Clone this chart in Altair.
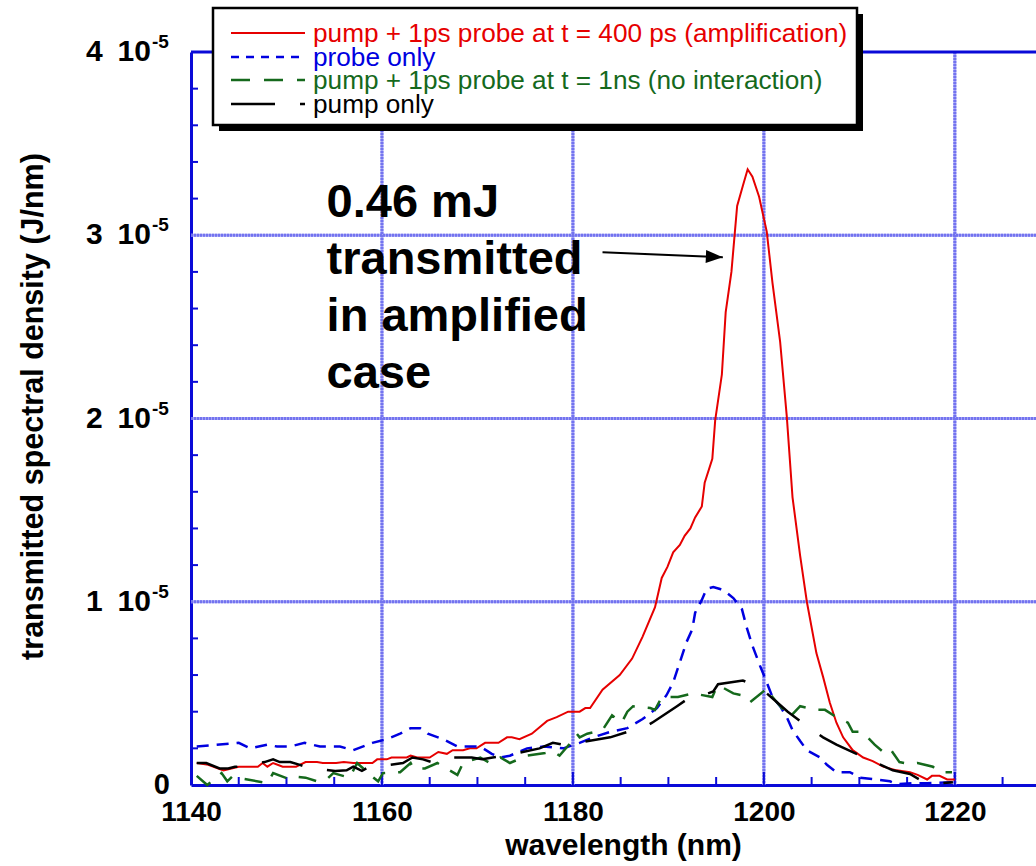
import altair as alt
import pandas as pd

FONT = "Liberation Sans"

# Spectra: wavelength (nm) and transmitted spectral density (units of 1e-5 J/nm)
amp_wl = [1140.6, 1141.8, 1143.4, 1145.0, 1147.0, 1147.5, 1148.0, 1148.6, 1149.6, 1151.0,
          1152.0, 1153.2, 1153.8, 1155.2, 1156.0, 1157.0, 1159.0, 1159.5, 1160.5, 1161.0,
          1162.6, 1163.0, 1163.7, 1165.0, 1165.9, 1166.8, 1167.4, 1168.5, 1169.2, 1169.9,
          1170.8, 1172.2, 1173.1, 1173.6, 1174.4, 1175.7, 1177.3, 1178.3, 1179.5, 1180.7,
          1181.3, 1181.8, 1183.1, 1184.9, 1186.2, 1187.3, 1188.6, 1189.3, 1189.9, 1190.5,
          1191.2, 1191.7, 1192.3, 1192.8, 1193.5, 1193.8, 1194.6, 1194.9, 1195.6, 1196.0,
          1196.6, 1197.2, 1197.8, 1198.3, 1198.8, 1199.5, 1200.3, 1200.9, 1201.7, 1202.4,
          1203.0, 1203.8, 1204.5, 1205.5, 1206.2, 1206.9, 1207.6, 1208.3, 1209.3, 1210.4,
          1211.4, 1212.5, 1213.9, 1215.3, 1216.1, 1217.1, 1217.6, 1218.4, 1219.2, 1220.0]
amp_val = [0.12, 0.11, 0.08, 0.10, 0.10, 0.12, 0.10, 0.12, 0.10, 0.10,
           0.125, 0.125, 0.12, 0.12, 0.125, 0.12, 0.12, 0.14, 0.14, 0.15,
           0.15, 0.16, 0.15, 0.15, 0.18, 0.17, 0.19, 0.19, 0.20, 0.20,
           0.23, 0.23, 0.26, 0.26, 0.25, 0.28, 0.35, 0.37, 0.40, 0.40,
           0.42, 0.42, 0.52, 0.60, 0.69, 0.81, 0.97, 1.13, 1.19, 1.27,
           1.31, 1.36, 1.40, 1.46, 1.52, 1.65, 1.78, 1.99, 2.24, 2.58,
           2.80, 3.16, 3.27, 3.36, 3.32, 3.21, 3.02, 2.74, 2.42, 2.01,
           1.57, 1.25, 1.00, 0.72, 0.59, 0.45, 0.34, 0.26, 0.19, 0.15,
           0.13, 0.10, 0.08, 0.07, 0.055, 0.03, 0.05, 0.05, 0.03, 0.03]

probe_wl = [1140.6, 1145.0, 1146.2, 1148.0, 1149.0, 1150.4, 1151.9, 1153.5, 1155.6, 1157.0,
            1159.0, 1160.5, 1161.9, 1163.0, 1164.0, 1164.8, 1166.4, 1167.9, 1169.2, 1170.3,
            1171.5, 1172.4, 1173.4, 1175.2, 1176.9, 1179.0, 1180.7, 1182.1, 1183.9, 1185.7,
            1187.3, 1188.8, 1189.8, 1190.5, 1191.2, 1191.9, 1192.5, 1192.8, 1193.5, 1194.0,
            1194.7, 1195.4, 1196.1, 1196.8, 1197.7, 1198.2, 1198.8, 1199.6, 1200.3, 1200.9,
            1201.7, 1202.4, 1203.0, 1203.8, 1204.5, 1205.9, 1206.6, 1207.6, 1209.0, 1210.1,
            1211.8, 1213.2, 1213.9, 1215.6, 1217.1, 1219.8]
probe_val = [0.21, 0.23, 0.20, 0.22, 0.21, 0.21, 0.23, 0.21, 0.21, 0.19,
             0.23, 0.25, 0.28, 0.31, 0.31, 0.28, 0.25, 0.21, 0.21, 0.21,
             0.17, 0.15, 0.16, 0.20, 0.21, 0.20, 0.23, 0.26, 0.29, 0.31,
             0.36, 0.42, 0.49, 0.56, 0.67, 0.78, 0.85, 0.94, 1.01, 1.07,
             1.08, 1.07, 1.05, 1.02, 0.96, 0.86, 0.76, 0.65, 0.56, 0.48,
             0.43, 0.37, 0.30, 0.24, 0.19, 0.15, 0.11, 0.07, 0.07, 0.04,
             0.03, 0.02, 0.005, 0.01, 0.01, 0.015]

late_wl = [1140.6, 1141.7, 1143.2, 1143.8, 1144.3, 1148.0, 1148.6, 1150.4, 1151.1, 1152.0,
           1153.2, 1154.2, 1154.9, 1156.6, 1157.4, 1159.0, 1159.6, 1160.1, 1161.9, 1163.0,
           1163.3, 1164.5, 1165.8, 1167.9, 1168.5, 1170.3, 1171.3, 1172.4, 1173.4, 1175.2,
           1177.1, 1177.9, 1178.6, 1180.0, 1180.4, 1180.7, 1181.5, 1183.1, 1184.1, 1185.1,
           1185.7, 1186.3, 1188.1, 1188.6, 1189.3, 1191.0, 1192.6, 1194.6, 1195.1, 1195.4,
           1196.8, 1197.7, 1198.5, 1200.4, 1200.9, 1202.7, 1203.8, 1205.5, 1206.4, 1207.6,
           1208.8, 1209.3, 1210.3, 1211.6, 1212.5, 1213.2, 1214.2, 1215.3, 1216.1, 1217.7,
           1218.4, 1219.7]
late_val = [0.05, 0.0, 0.065, 0.02, 0.045, 0.01, 0.065, 0.03, 0.045, 0.04,
            0.02, 0.03, 0.065, 0.04, 0.12, 0.045, 0.02, 0.065, 0.07, 0.12,
            0.09, 0.09, 0.12, 0.055, 0.12, 0.15, 0.12, 0.15, 0.12, 0.16,
            0.175, 0.185, 0.16, 0.245, 0.28, 0.26, 0.28, 0.30, 0.38, 0.34,
            0.40, 0.43, 0.42, 0.41, 0.48, 0.48, 0.50, 0.48, 0.54, 0.54,
            0.50, 0.49, 0.45, 0.53, 0.48, 0.37, 0.43, 0.41, 0.41, 0.37,
            0.34, 0.29, 0.29, 0.22, 0.18, 0.20, 0.125, 0.115, 0.12, 0.10,
            0.07, 0.07]

pump_wl = [1140.6, 1141.6, 1143.0, 1143.9, 1144.6, 1145.1, 1147.7, 1148.6, 1149.3, 1150.4,
           1151.4, 1152.5, 1155.1, 1156.3, 1157.0, 1157.9, 1158.7, 1159.5, 1162.2, 1163.2,
           1164.3, 1165.5, 1166.8, 1169.4, 1170.5, 1171.6, 1172.9, 1173.9, 1176.5, 1177.9,
           1179.0, 1179.7, 1181.0, 1183.9, 1185.7, 1187.3, 1188.3, 1190.9, 1192.3, 1193.6,
           1194.7, 1195.2, 1197.8, 1198.8, 1200.3, 1201.4, 1202.5, 1204.8, 1206.2, 1207.6,
           1209.3, 1211.8, 1213.5, 1215.3, 1216.3, 1218.7, 1219.8]
pump_val = [0.12, 0.12, 0.09, 0.09, 0.10, 0.10, 0.125, 0.14, 0.125, 0.125,
            0.11, 0.09, 0.077, 0.08, 0.10, 0.077, 0.10, 0.10, 0.12, 0.15,
            0.14, 0.12, 0.15, 0.15, 0.14, 0.15, 0.16, 0.17, 0.20, 0.23,
            0.22, 0.23, 0.235, 0.26, 0.29, 0.31, 0.34, 0.43, 0.48, 0.49,
            0.51, 0.55, 0.57, 0.55, 0.50, 0.45, 0.40, 0.31, 0.26, 0.22,
            0.18, 0.12, 0.08, 0.06, 0.03, 0.01, 0.015]

# Legend entries
legend_labels = ["pump + 1ps probe at t = 400 ps (amplification)",
                 "probe only",
                 "pump + 1ps probe at t = 1ns (no interaction)",
                 "pump only"]
legend_colors = ["#e60000", "#0000e0", "#15691c", "#000000"]

# Axis ticks, grid and labels
x_major = [1140, 1160, 1180, 1200, 1220]
x_grid = [1160, 1180, 1200, 1220]
x_minor = [1145, 1150, 1155, 1165, 1170, 1175, 1185, 1190, 1195, 1205, 1210, 1215, 1225]
y_grid = [1, 2, 3]
y_minor = [0.2, 0.4, 0.6, 0.8, 1.2, 1.4, 1.6, 1.8, 2.2, 2.4, 2.6, 2.8,
           3.2, 3.4, 3.6, 3.8]
y_label_vals = [1, 2, 3, 4]
y_label_text = ["1\u200210", "2\u200210", "3\u200210", "4\u200210"]
y_label_exp = ["-5", "-5", "-5", "-5"]

annotation = "0.46 mJ\ntransmitted\nin amplified\ncase"
annot_pos = (1154.2, 3.10)
arrow_tail = (1183.1, 2.907)
arrow_tip = (1195.7, 2.88)

W, H = 845, 733
FRAME = "#0a0ad8"
GRID = "#7373ef"

xs = alt.Scale(domain=[1140, 1228.5], nice=False, zero=False)
ys = alt.Scale(domain=[0, 4], nice=False, zero=True)

x_axis = alt.Axis(
    values=x_major, grid=False, domainColor=FRAME, domainWidth=3, ticks=False,
    labelFont=FONT, labelFontSize=28, labelFontWeight="bold", labelColor="black",
    labelPadding=13, labelFlush=False, format="d",
    title="wavelength (nm)", titleFont=FONT, titleFontSize=30,
    titleFontWeight="bold", titleColor="black", titleX=432, titleY=45,
    titleAlign="center", titleBaseline="top")
y_axis = alt.Axis(
    values=y_label_vals, grid=False, domainColor=FRAME, domainWidth=3,
    ticks=False, labels=False,
    title="transmitted spectral density (J/nm)", titleFont=FONT,
    titleFontSize=30.5, titleFontWeight="bold", titleColor="black",
    titleX=-158, titleY=354, titleAlign="center", titleBaseline="middle",
    titleAngle=-90, titleLimit=0)


def df(wl, s):
    return pd.DataFrame({"wl": wl, "s": s})


X = alt.X("wl:Q", scale=xs, axis=x_axis)
Y = alt.Y("s:Q", scale=ys, axis=y_axis)

# Dotted grid: a light band with a darker dotted texture
x_grid_band = alt.Chart(pd.DataFrame({"wl": x_grid})).mark_rule(
    color="#a4a4f6", strokeWidth=3).encode(x=X, y=alt.value(0), y2=alt.value(H))
x_grid_dots = alt.Chart(pd.DataFrame({"wl": x_grid})).mark_rule(
    color=GRID, strokeWidth=3, strokeDash=[2, 1]).encode(
    x=X, y=alt.value(0), y2=alt.value(H))
y_grid_band = alt.Chart(pd.DataFrame({"s": y_grid})).mark_rule(
    color="#a4a4f6", strokeWidth=3).encode(y=Y, x=alt.value(0), x2=alt.value(W))
y_grid_dots = alt.Chart(pd.DataFrame({"s": y_grid})).mark_rule(
    color=GRID, strokeWidth=3, strokeDash=[2, 1]).encode(
    y=Y, x=alt.value(0), x2=alt.value(W))

top_line = alt.Chart(df([1140], [4])).mark_rule(color=FRAME, strokeWidth=3).encode(
    x=alt.value(0), x2=alt.value(W), y=Y)

x_major_ticks = alt.Chart(pd.DataFrame({"wl": x_major})).mark_rule(
    color=FRAME, strokeWidth=2).encode(x=X, y=alt.value(H), y2=alt.value(H - 13))
x_minor_ticks = alt.Chart(pd.DataFrame({"wl": x_minor})).mark_rule(
    color=FRAME, strokeWidth=2).encode(x=X, y=alt.value(H), y2=alt.value(H - 8))
y_ticks = alt.Chart(pd.DataFrame({"s": y_minor})).mark_rule(
    color=FRAME, strokeWidth=2).encode(y=Y, x=alt.value(0), x2=alt.value(7))

ylab = pd.DataFrame({"s": y_label_vals, "t": y_label_text, "e": y_label_exp})
y_main = alt.Chart(ylab).mark_text(
    font=FONT, fontSize=30, fontWeight="bold", align="right", baseline="middle",
    color="black").encode(y=Y, x=alt.value(-40), text="t:N")
y_exp = alt.Chart(ylab).mark_text(
    font=FONT, fontSize=19, fontWeight="bold", align="left", baseline="middle",
    dy=-10, color="black").encode(y=Y, x=alt.value(-39), text="e:N")
y_zero = alt.Chart(pd.DataFrame({"s": [0], "t": ["0"]})).mark_text(
    font=FONT, fontSize=29, fontWeight="bold", align="right", baseline="middle",
    color="black").encode(y=Y, x=alt.value(-21), text="t:N")

# Spectra
amp = alt.Chart(df(amp_wl, amp_val)).mark_line(
    color=legend_colors[0], strokeWidth=2).encode(x=X, y=Y, order="wl:Q")
probe = alt.Chart(df(probe_wl, probe_val)).mark_line(
    color=legend_colors[1], strokeWidth=2.5, strokeDash=[12, 8]).encode(
    x=X, y=Y, order="wl:Q")
late = alt.Chart(df(late_wl, late_val)).mark_line(
    color=legend_colors[2], strokeWidth=2.5, strokeDash=[18, 13]).encode(
    x=X, y=Y, order="wl:Q")
pump = alt.Chart(df(pump_wl, pump_val)).mark_line(
    color=legend_colors[3], strokeWidth=2.5, strokeDash=[42, 25]).encode(
    x=X, y=Y, order="wl:Q")

# Annotation with arrow
note = alt.Chart(df([annot_pos[0]], [annot_pos[1]])).mark_text(
    font=FONT, fontSize=47, fontWeight="bold", align="left", baseline="alphabetic",
    lineBreak="\n", lineHeight=57, color="black").encode(
    x=X, y=Y, text=alt.value(annotation))
arrow_line = alt.Chart(df([arrow_tail[0], arrow_tip[0]], [arrow_tail[1], arrow_tip[1]])).mark_line(
    color="black", strokeWidth=2).encode(x=X, y=Y, order="wl:Q")
arrow_head = alt.Chart(df([arrow_tip[0]], [arrow_tip[1]])).mark_point(
    shape="M-1,-0.38L0,0L-1,0.38Z", filled=True, color="black", opacity=1,
    size=1150, angle=2.4).encode(x=X, y=Y)

# Legend box with drop shadow
shadow = alt.Chart(df([0], [0])).mark_rect(color="black").encode(
    x=alt.value(28), x2=alt.value(672), y=alt.value(-38), y2=alt.value(79))
box = alt.Chart(df([0], [0])).mark_rect(
    fill="white", stroke="black", strokeWidth=2.5).encode(
    x=alt.value(22), x2=alt.value(666), y=alt.value(-44), y2=alt.value(73))

row_y = [-19, 5, 28, 52]
sample_dash = [[1, 0], [8, 7], [19, 14], [44, 25]]
sample_width = [2, 2.5, 2.5, 2.5]
legend_layers = []
for lab, col, ry, dash, sw in zip(legend_labels, legend_colors, row_y, sample_dash, sample_width):
    legend_layers.append(
        alt.Chart(df([0], [0])).mark_rule(
            color=col, strokeWidth=sw, strokeDash=dash).encode(
            x=alt.value(40), x2=alt.value(114), y=alt.value(ry)))
    legend_layers.append(
        alt.Chart(df([0], [0])).mark_text(
            font=FONT, fontSize=26.2, align="left", baseline="alphabetic",
            color=col).encode(
            x=alt.value(122), y=alt.value(ry + 9), text=alt.value(lab)))

chart = alt.layer(
    x_grid_band, y_grid_band, x_grid_dots, y_grid_dots,
    x_major_ticks, x_minor_ticks, y_ticks,
    amp, probe, late, pump,
    note, arrow_line, arrow_head,
    top_line, shadow, box, *legend_layers,
    y_main, y_exp, y_zero,
).properties(
    width=W, height=H,
    autosize=alt.AutoSizeParams(type="none"),
    padding={"left": 191, "top": 52, "right": 0, "bottom": 81},
    background="white",
).configure_view(stroke=None)

chart.save("out.html", embed_options={"renderer": "svg", "actions": False})
